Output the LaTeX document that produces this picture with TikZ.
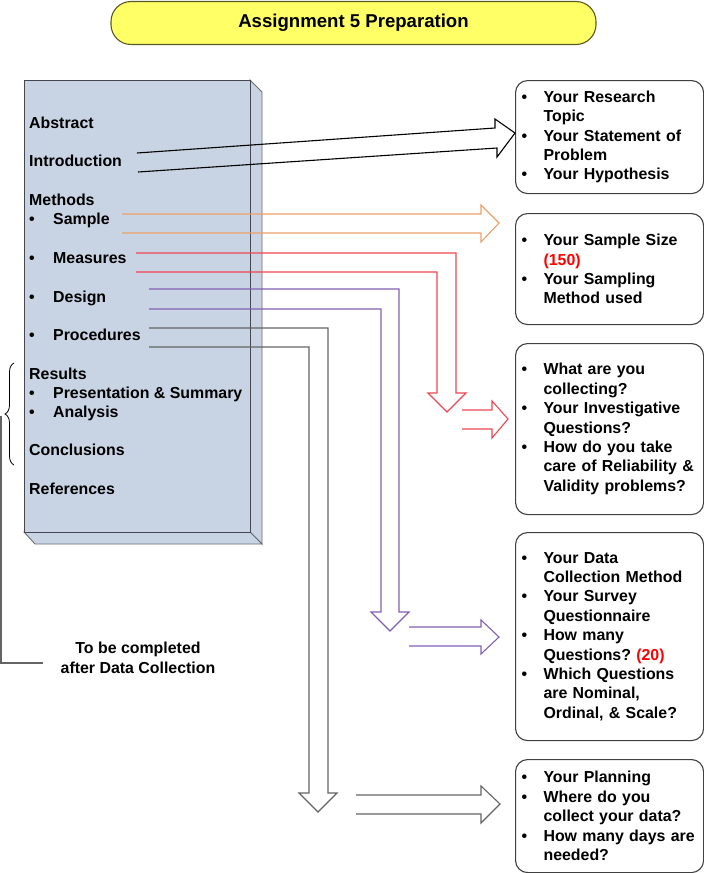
\documentclass[tikz,border=0pt]{standalone}
\usepackage{fontspec}
\setmainfont{Liberation Sans}
\usetikzlibrary{decorations.pathreplacing}
\frenchspacing

\definecolor{paperblue}{RGB}{200,212,228}
\definecolor{paperedge}{RGB}{70,70,80}
\definecolor{titleyellow}{RGB}{255,255,102}
\definecolor{titleedge}{RGB}{90,90,40}
\definecolor{sampleorange}{RGB}{236,160,104}
\definecolor{measurered}{RGB}{238,70,80}
\definecolor{designpurple}{RGB}{130,95,180}
\definecolor{procgray}{RGB}{100,100,100}

\newcommand{\bodyfont}{\fontsize{15.9}{19.4}\selectfont\bfseries}
% bullet line and continuation line
\newcommand{\bl}{\makebox[22pt][l]{\textbullet}}
\newcommand{\cl}{\hspace*{22pt}}
\newcommand{\lbul}{\makebox[24pt][l]{\textbullet}}

\tikzset{
  titlebox/.style={draw=titleedge, fill=titleyellow, line width=1.1pt, rounded corners=20pt,
    minimum width=485pt, minimum height=43pt, font=\fontsize{18.6}{22}\selectfont\bfseries},
  infobox/.style={draw=black!75, line width=1.1pt, rounded corners=12pt, anchor=north west,
    text width=176pt, inner xsep=6pt, inner ysep=0pt, align=left, font=\bodyfont},
  sectext/.style={anchor=base west, inner sep=0pt, font=\bodyfont},
  blockarr/.style={line width=1.1pt, line join=miter},
}

\begin{document}
\begin{tikzpicture}[x=1pt, y=-1pt]
  \useasboundingbox (0,0) rectangle (704,873);

  % title
  \node[titlebox] (title) at (353.5,23) {Assignment 5 Preparation};

  % the paper (3d box)
  \draw[paperedge!80, fill=paperblue, line width=0.9pt] (250,80) -- (262,92) -- (262,544) -- (250,532) -- cycle;
  \draw[paperedge!80, fill=paperblue, line width=0.9pt] (24,532) -- (250,532) -- (262,544) -- (35,544) -- cycle;
  \draw[paperedge, fill=paperblue, line width=0.9pt] (24,80) rectangle (250,532);

  % sections
  \foreach \n/\y/\t in {abstract/128/Abstract, intro/166/Introduction, methods/205/Methods,
      results/379/Results, concl/455/Conclusions, refs/494/References}
    \node[sectext] (\n) at (29,\y) {\t};
  \foreach \n/\y/\t in {sample/224/Sample, measures/263/Measures, design/302/Design,
      procs/340/Procedures, present/398/Presentation \& Summary, analysis/417/Analysis}
    \node[sectext] (\n) at (29,\y) {\lbul\t};

  % brace and note
  \draw[line width=0.8pt, decorate, decoration={brace, amplitude=9pt}] (14,465) -- (14,363);
  \coordinate (bracetip) at (1,416);
  \coordinate (noteend) at (43,663);
  \draw[procgray, line width=1.1pt] (bracetip) |- (noteend);
  \node[font=\bodyfont, align=center] (note) at (138,658) {To be completed\\after Data Collection};

  % right boxes
  \node[infobox, minimum height=113pt] (topic) at (515,80)
    {\bl Your Research\\\cl Topic\\\bl Your Statement of\\\cl Problem\\\bl Your Hypothesis};
  \node[infobox, minimum height=111pt] (samplesize) at (515,213)
    {\bl Your Sample Size\\\cl\textcolor{red}{(150)}\\\bl Your Sampling\\\cl Method used};
  \node[infobox, minimum height=171pt] (collect) at (515,343)
    {\bl What are you\\\cl collecting?\\\bl Your Investigative\\\cl Questions?\\\bl How do you take\\\cl care of Reliability \&\\\cl Validity problems?};
  \node[infobox, minimum height=208pt] (survey) at (515,532)
    {\bl Your Data\\\cl Collection Method\\\bl Your Survey\\\cl Questionnaire\\\bl How many\\\cl Questions? \textcolor{red}{(20)}\\\bl Which Questions\\\cl are Nominal,\\\cl Ordinal, \& Scale?};
  \node[infobox, minimum height=113pt] (planning) at (515,759)
    {\bl Your Planning\\\bl Where do you\\\cl collect your data?\\\bl How many days are\\\cl needed?};

  % arrows
  \draw[blockarr, black] (138,172) -- (497,148) -- (497,157) -- (515,133) -- (495,119) -- (495,128) -- (137,153);
  \draw[blockarr, sampleorange] (122,214) -- (481,214) -- (481,205) -- (499,223) -- (481,242) -- (481,233) -- (122,233);
  \draw[blockarr, measurered] (136,253) -- (456,253) -- (456,393) -- (466,393) -- (447,412) -- (428,393) -- (437,393) -- (437,272) -- (136,272);
  \draw[blockarr, measurered] (462,410) -- (492,410) -- (492,401) -- (508,419) -- (492,438) -- (492,429) -- (462,429);
  \draw[blockarr, designpurple] (149,289) -- (399,289) -- (399,612) -- (409,612) -- (390,631) -- (371,612) -- (381,612) -- (381,309) -- (149,309);
  \draw[blockarr, designpurple] (409,627) -- (481,627) -- (481,620) -- (499,637) -- (481,654) -- (481,646) -- (409,646);
  \draw[blockarr, procgray] (149,328) -- (328,328) -- (328,793) -- (337,793) -- (318,812) -- (299,793) -- (309,793) -- (309,347) -- (149,347);
  \draw[blockarr, procgray] (356,795) -- (481,795) -- (481,786) -- (500,804) -- (481,823) -- (481,814) -- (356,814);
\end{tikzpicture}
\end{document}
